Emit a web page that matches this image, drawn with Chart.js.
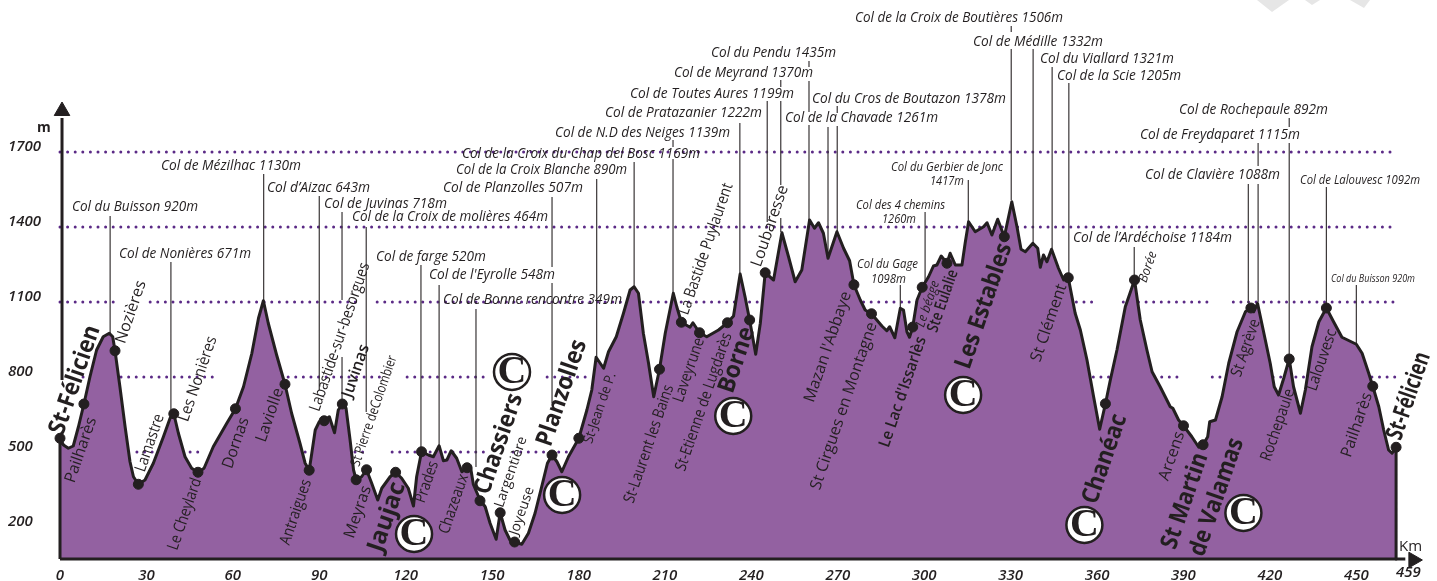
<!DOCTYPE html>
<html>
<head>
<meta charset="utf-8">
<title>Profil</title>
<script src="https://cdn.jsdelivr.net/npm/chart.js@4/dist/chart.umd.min.js"></script>
<style>
    html, body { margin: 0; padding: 0; background: #fff; overflow: hidden; }
    canvas { display: block; }
</style>
</head>
<body>
<canvas id="profile" width="1437" height="581"></canvas>
<script>
// Profile (km, metres)
const profileKm = [0, 0, 1.2, 2.9, 4.6, 6.4, 8.3, 10.4, 12.7, 15, 17.1, 18.3, 19.1, 20.8, 22.6, 24.3, 25.5, 27.2, 29.5, 32.4, 35.9, 38.2, 39.5, 41.1, 43.4, 45.7, 47.9, 50, 53.2, 57.9, 60.9, 63.7, 66.6, 68.9, 70.6, 72.3, 75.2, 78.1, 80.4, 83.3, 85.1, 86.5, 87.4, 88.6, 90, 91.7, 93.5, 95.3, 96.6, 98, 99.3, 100.7, 101.9, 102.8, 104.7, 106.4, 108.2, 110.3, 111.7, 114.6, 116.5, 118.6, 120.9, 122.7, 123.8, 125.5, 127.9, 129.6, 131.6, 133.1, 134.3, 135.8, 137.7, 139.5, 141.3, 142.5, 143.5, 145.8, 147.6, 149.3, 151.4, 152.8, 154.5, 156.2, 157.8, 160.3, 162.6, 164.9, 167.2, 169.2, 170.8, 172.5, 174.2, 176.5, 180.1, 182.9, 184.6, 186.1, 188.7, 190.4, 193.1, 195.6, 197.9, 199.3, 200.8, 202.5, 204.3, 206.1, 208.1, 210.1, 212.9, 214.1, 215.7, 218.7, 219.7, 222, 224.5, 228.6, 231.7, 233.8, 236.1, 237.8, 239.4, 241.5, 243.1, 244.8, 247.7, 250.6, 252.9, 255.2, 257.5, 260.2, 261.9, 263.3, 265, 266.6, 269.7, 272, 274.1, 275.6, 277.8, 279.5, 281.7, 285.3, 287, 288, 289.8, 291.7, 292.8, 294, 294.9, 296, 297.5, 299.3, 301.5, 303.2, 304.4, 305.9, 307.9, 309, 310.8, 313.1, 314.2, 315.4, 317.7, 320.6, 321.8, 323.5, 325.5, 327.8, 330.4, 332.2, 333.6, 335.1, 337.7, 339.4, 340.3, 341.4, 342.6, 344.2, 346.6, 348.4, 350, 352.4, 354.2, 356.5, 358.8, 360.9, 362.9, 364.6, 366.9, 369.8, 373, 375, 377.3, 379.1, 381.9, 385.4, 386.3, 388.3, 390, 392.9, 395.3, 396.8, 398.4, 399.1, 401.1, 403.4, 405.7, 408.6, 411.5, 413.4, 414.4, 415.7, 417.8, 420.1, 421.5, 423, 424.8, 426.7, 428.2, 430.6, 432.3, 434.6, 437, 439.6, 442.1, 445, 450, 452, 454.3, 455.7, 457.8, 459.5, 461.2, 462.4, 463.8, 463.8];
const profileAlt = [72, 555, 528, 515, 524, 601, 692, 801, 908, 961, 975, 961, 905, 761, 601, 461, 401, 371, 388, 455, 561, 635, 653, 575, 481, 435, 419, 435, 521, 615, 673, 761, 895, 1035, 1105, 1015, 888, 771, 655, 535, 455, 427, 495, 588, 621, 625, 641, 577, 668, 692, 675, 548, 428, 389, 401, 429, 375, 308, 355, 401, 419, 395, 355, 284, 401, 501, 488, 481, 525, 465, 468, 505, 475, 421, 437, 440, 370, 308, 281, 215, 151, 257, 188, 148, 140, 131, 175, 255, 361, 455, 488, 461, 421, 481, 555, 668, 748, 879, 835, 901, 961, 1055, 1148, 1161, 1135, 975, 855, 721, 831, 975, 1135, 1081, 1019, 999, 1017, 977, 961, 988, 1017, 1044, 1212, 1121, 1028, 891, 1015, 1217, 1188, 1377, 1281, 1181, 1228, 1428, 1395, 1417, 1375, 1275, 1381, 1315, 1265, 1169, 1108, 1068, 1053, 1004, 985, 1001, 957, 1075, 1068, 981, 959, 1000, 1108, 1159, 1201, 1244, 1248, 1284, 1255, 1295, 1248, 1248, 1335, 1421, 1381, 1401, 1417, 1368, 1431, 1361, 1501, 1401, 1311, 1301, 1335, 1315, 1239, 1288, 1261, 1311, 1235, 1188, 1197, 1055, 988, 868, 721, 591, 693, 788, 908, 1081, 1188, 1028, 908, 821, 761, 681, 675, 628, 605, 561, 519, 529, 561, 621, 628, 721, 855, 981, 1061, 1076, 1061, 1095, 981, 855, 761, 728, 795, 872, 761, 655, 748, 921, 1021, 1076, 1021, 959, 931, 895, 815, 763, 681, 588, 508, 495, 519, 72];
const baseAlt = 72;

// Towns (black dots)
const townKm = [0, 8.3, 19.1, 27.2, 39.5, 47.9, 60.9, 78.1, 86.5, 91.7, 98, 102.8, 106.4, 116.5, 125.5, 141.3, 145.8, 152.8, 157.8, 170.8, 180.1, 208.1, 215.7, 222, 231.7, 239.4, 244.8, 275.6, 281.7, 296, 299.3, 307.9, 327.8, 350, 362.9, 373, 390, 396.8, 413.4, 426.7, 439.6, 455.7, 463.8];
const townAlt = [555, 692, 905, 371, 653, 419, 673, 771, 427, 625, 692, 389, 429, 419, 501, 437, 305, 257, 140, 488, 555, 831, 1019, 977, 1017, 1028, 1217, 1169, 1053, 1000, 1159, 1255, 1361, 1197, 693, 1188, 605, 529, 1076, 872, 1076, 763, 519];

// Circled C marks
const climbKm = [122.9, 156.9, 233.7, 174.3, 313.5, 355.6, 410.8];
const climbAlt = [172, 820, 644, 328, 728, 208, 256];

// Leader lines from the col names down to the profile
const leaderKm = [17.4, 38.5, 70.7, 90, 97.9, 97.9, 106.3, 125.3, 131.6, 144.4, 170.8, 170.8, 186.3, 199.3, 212.8, 212.8, 236, 245.5, 250.2, 250.2, 250.2, 260, 260, 260, 266.6, 269.8, 269.8, 291.7, 300.3, 315.3, 330.2, 330.2, 337.8, 344.4, 350.2, 372.9, 412.5, 415.9, 415.9, 426.7, 426.7, 439.6, 450];
const leaderTop = [1444, 1260, 1612, 1524, 1460, 880, 1400, 1248, 1168, 1072, 1520, 1176, 1592, 1660, 1748, 1672, 1816, 1904, 1988, 1904, 1436, 2064, 1984, 1808, 1800, 1884, 1804, 1168, 1460, 1588, 2204, 2112, 2112, 2040, 1976, 1320, 1572, 1736, 1572, 1836, 1736, 1560, 1168];
const leaderBottom = [975, 653, 1105, 748, 1108, 708, 660, 500, 525, 440, 1240, 696, 880, 1160, 1720, 1135, 1212, 1420, 1960, 1568, 1380, 2040, 1860, 1428, 1276, 1856, 1380, 1076, 1176, 1420, 2180, 1508, 1336, 1316, 1208, 1188, 1096, 1644, 1100, 1800, 872, 1076, 932];

// Dotted level lines, with the stretches where they are drawn
const levelAlts = [1700, 1400, 1100, 800, 500];
const levelSpans = [
    [[0, 463.5]],
    [[0, 463.5]],
    [[0, 20.8], [31.3, 103.1], [110.1, 359.4], [369.1, 398.3], [407.3, 463.5]],
    [[8, 54.9], [79.2, 112.8], [120.5, 149.3], [169.1, 184.7], [358.7, 389.9], [400, 463.5]],
    [[26.7, 49.7], [85.1, 87.5], [102.4, 105.9], [115.3, 149.3], [157.3, 178.8]]
];

const xTicks = [0, 30, 60, 90, 120, 150, 180, 210, 240, 270, 300, 330, 360, 390, 420, 450];
const yTicks = [200, 500, 800, 1100, 1400, 1700];

const colNames = [
    'Col de la Croix de Boutières 1506m', 'Col de Médille 1332m', 'Col du Viallard 1321m', 'Col de la Scie 1205m',
    'Col du Cros de Boutazon 1378m', 'Col de la Chavade 1261m', 'Col du Pendu 1435m', 'Col de Meyrand 1370m',
    'Col de Toutes Aures 1199m', 'Col de Pratazanier 1222m', 'Col de N.D des Neiges 1139m',
    'Col de la Croix du Chap del Bosc 1169m', 'Col de la Croix Blanche 890m', 'Col de Planzolles 507m',
    'Col de la Croix de molières 464m', 'Col de Juvinas 718m', 'Col d’Aizac 643m', 'Col de Mézilhac 1130m',
    'Col du Buisson 920m', 'Col de Nonières 671m', 'Col de farge 520m', "Col de l'Eyrolle 548m",
    'Col de Bonne rencontre 349m', 'Col du Gerbier de Jonc', '1417m', 'Col des 4 chemins', '1260m',
    'Col du Gage', '1098m', 'Col de Rochepaule 892m', 'Col de Freydaparet 1115m', 'Col de Clavière 1088m',
    'Col de Lalouvesc 1092m', 'Col de l’Ardéchoise 1184m', 'Col du Buisson 920m'
];
const townNames = [
    'St-Félicien', 'Pailharès', 'Nozières', 'Lamastre', 'Les Nonières', 'Le Cheylard', 'Dornas', 'Laviolle',
    'Antraigues', 'Labastide-sur-besorgues', 'Juvinas', 'St Pierre deColombier', 'Meyras', 'Jaujac', 'Prades',
    'Chazeaux', 'Chassiers', 'Largentière', 'Joyeuse', 'Planzolles', 'St-Jean de P.', 'St-Laurent les Bains',
    'Laveyrune', 'La Bastide Puylaurent', 'St-Etienne de Lugdarès', 'Borne', 'Loubaresse', "Mazan l'Abbaye",
    'St Cirgues en Montagne', "Le Lac d'Issarlès", 'Le béage', 'Ste Eulalie', 'Les Estables', 'St Clément',
    'Borée', 'Chanéac', 'Arcens', 'St Martin', 'de Valamas', 'St Agrève', 'Rochepaule', 'Lalouvesc', 'Pailharès',
    'St-Félicien'
];

// Text placement, same order as the names: left, right, middle y, font size
const colLayout = [
    [855, 1063, 18, 14], [973, 1103, 42, 14], [1040, 1174, 59, 14], [1057, 1181, 76, 14],
    [812, 1006, 99, 14], [785, 938, 118, 14], [711, 836, 53, 14], [674, 813, 73, 14],
    [630, 794, 94, 14], [605, 762, 113, 14], [555, 730, 133, 14],
    [462, 700, 154, 14], [456, 627, 170, 14], [443, 583, 188, 14],
    [352, 548, 217, 14], [324, 447, 204, 14], [267, 370, 188, 14], [161, 301, 166, 14],
    [72, 198, 207, 14], [119, 251, 254, 14], [376, 486, 257, 14], [429, 555, 275, 14],
    [443, 622, 300, 14], [891, 1003, 167, 12], [930, 964, 181, 12], [856, 945, 205, 12], [882, 916, 219, 12],
    [857, 918, 264, 12], [871, 906, 279, 12], [1179, 1328, 110, 14], [1140, 1300, 135, 14], [1145, 1280, 175, 14],
    [1300, 1420, 180, 12], [1073, 1232, 238, 14], [1331, 1415, 279, 10]
];
// centre x, centre y, length, font
const townLayout = [
    [75, 380, 114, 'big'], [81, 450, 68, 'mid'], [131, 312, 72, 'mid'], [150, 443, 60, 'mid'], [198, 379, 89, 'mid'],
    [185, 514, 75, 'mid'], [236, 443, 53, 'mid'], [270, 415, 57, 'mid'], [296, 512, 68, 'mid'], [340, 337, 156, 'mid'],
    [356, 371, 55, 'strong'], [374, 411, 116, 'small'], [358, 512, 55, 'mid'], [387, 517, 72, 'big'], [427, 482, 43, 'mid'],
    [454, 504, 62, 'mid'], [499, 444, 105, 'big'], [511, 472, 74, 'small'], [522, 511, 52, 'small'], [562, 393, 111, 'big'],
    [600, 408, 74, 'small'], [649, 444, 124, 'mid'], [689, 370, 67, 'mid'], [706, 249, 138, 'mid'], [704, 402, 145, 'mid'],
    [737, 360, 68, 'big'], [770, 226, 85, 'mid'], [828, 347, 116, 'mid'], [844, 406, 176, 'mid'], [903, 392, 116, 'strong'],
    [928, 304, 48, 'tiny'], [943, 301, 65, 'strong'], [984, 306, 131, 'big'], [1049, 323, 82, 'mid'], [1148, 267, 32, 'tiny'],
    [1105, 459, 93, 'big'], [1172, 456, 52, 'mid'], [1185, 501, 100, 'big'], [1217, 497, 123, 'big'], [1246, 348, 60, 'mid'],
    [1278, 425, 75, 'mid'], [1322, 360, 64, 'mid'], [1357, 425, 67, 'mid'], [1409, 396, 91, 'big']
];

const INK = '#231f20';
const FACE = '"Open Sans", "Noto Sans", sans-serif';
const townFonts = {
    big: `700 24px ${FACE}`,
    strong: `600 16px ${FACE}`,
    mid: `400 16px ${FACE}`,
    small: `400 14px ${FACE}`,
    tiny: `italic 400 13px ${FACE}`
};

function levelPoints() {
    const pts = [];
    levelAlts.forEach((alt, i) => {
        levelSpans[i].forEach(span => {
            pts.push({ x: span[0], y: alt }, { x: span[1], y: alt }, { x: span[1], y: null });
        });
    });
    return pts;
}

function leaderPoints() {
    const pts = [];
    leaderKm.forEach((km, i) => {
        pts.push({ x: km, y: leaderTop[i] }, { x: km, y: leaderBottom[i] }, { x: km, y: null });
    });
    return pts;
}

function zip(xs, ys) {
    return xs.map((x, i) => ({ x: x, y: ys[i] }));
}

// the scales must fill the canvas exactly, so no room is kept for edge labels
function noEdgePadding(axis) {
    axis.paddingLeft = 0;
    axis.paddingRight = 0;
    axis.paddingTop = 0;
    axis.paddingBottom = 0;
}

// Names, circled C, small map scraps at the top right
const annotations = {
    id: 'annotations',
    afterDatasetsDraw(chart) {
        const ctx = chart.ctx;
        const xs = chart.scales.x;
        const ys = chart.scales.y;

        ctx.save();
        ctx.fillStyle = INK;
        ctx.textBaseline = 'middle';
        ctx.textAlign = 'left';

        colNames.forEach((name, i) => {
            const l = colLayout[i];
            ctx.font = `italic 500 ${l[3] + 1}px ${FACE}`;
            ctx.fillText(name, l[0], l[2], l[1] - l[0]);
        });

        ctx.textAlign = 'center';
        townNames.forEach((name, i) => {
            const l = townLayout[i];
            ctx.save();
            ctx.translate(l[0], l[1]);
            ctx.rotate(-71 * Math.PI / 180);
            ctx.font = townFonts[l[3]];
            ctx.fillText(name, 0, 0, l[2]);
            ctx.restore();
        });

        ctx.font = `700 40px "Liberation Serif", serif`;
        climbKm.forEach((km, i) => {
            ctx.fillText('C', xs.getPixelForValue(km), ys.getPixelForValue(climbAlt[i]) + 1);
        });

        ctx.textAlign = 'left';
        ctx.font = `700 14px ${FACE}`;
        ctx.fillText('m', 37, 128);
        ctx.font = `500 15px ${FACE}`;
        ctx.fillText('Km', 1399, 547);
        ctx.font = `italic 600 15px ${FACE}`;
        ctx.fillText('459', 1396, 573);

        ctx.fillStyle = '#e6e6e6';
        [[1257, 0, 1272, 12, 1289, 0], [1305, 0, 1312, 5, 1320, 0], [1350, 0, 1364, 8, 1370, 0]].forEach(s => {
            ctx.beginPath();
            ctx.moveTo(s[0], s[1]);
            ctx.lineTo(s[2], s[3]);
            ctx.lineTo(s[4], s[5]);
            ctx.closePath();
            ctx.fill();
        });
        ctx.restore();
    }
};

new Chart(document.getElementById('profile'), {
    type: 'scatter',
    data: {
        datasets: [
            {
                label: 'levels',
                data: levelPoints(),
                showLine: true,
                order: 6,
                borderColor: '#5b2a86',
                borderWidth: 3,
                borderDash: [0, 7.6],
                borderCapStyle: 'round',
                pointRadius: 0,
                clip: false
            },
            {
                label: 'leaders',
                data: leaderPoints(),
                showLine: true,
                order: 5,
                borderColor: '#3a3637',
                borderWidth: 1.2,
                pointRadius: 0,
                clip: false
            },
            {
                label: 'profile',
                data: zip(profileKm, profileAlt),
                showLine: true,
                order: 4,
                fill: 'start',
                backgroundColor: '#9361a1',
                borderColor: INK,
                borderWidth: 3,
                borderJoinStyle: 'round',
                pointRadius: 0,
                clip: false
            },
            {
                label: 'km axis',
                data: [{ x: 0, y: baseAlt }, { x: 467, y: baseAlt }],
                showLine: true,
                order: 3,
                borderColor: INK,
                borderWidth: 3,
                pointRadius: 0,
                clip: false
            },
            {
                label: 'm axis',
                data: [{ x: 0.7, y: 788 }, { x: 0.7, y: 1836 }],
                showLine: true,
                order: 3,
                borderColor: INK,
                borderWidth: 3,
                pointRadius: 0,
                clip: false
            },
            {
                label: 'arrows',
                data: [{ x: 0.7, y: 1864 }, { x: 469.8, y: baseAlt - 4 }],
                order: 2,
                pointStyle: 'triangle',
                pointRadius: 9,
                pointRotation: [0, 90],
                backgroundColor: INK,
                borderColor: INK,
                clip: false
            },
            {
                label: 'towns',
                data: zip(townKm, townAlt),
                order: 1,
                pointRadius: 5,
                backgroundColor: INK,
                borderColor: INK,
                clip: false
            },
            {
                label: 'climbs',
                data: zip(climbKm, climbAlt),
                order: 0,
                pointRadius: 18,
                backgroundColor: '#fff',
                borderColor: INK,
                borderWidth: 2.5,
                clip: false
            }
        ]
    },
    plugins: [annotations],
    options: {
        responsive: false,
        animation: false,
        layout: { autoPadding: false, padding: { left: 8, right: 0, top: 0, bottom: 0 } },
        plugins: { legend: { display: false }, tooltip: { enabled: false } },
        scales: {
            x: {
                type: 'linear',
                min: 0,
                max: 478,
                grid: { display: false },
                border: { display: false },
                afterBuildTicks: axis => { axis.ticks = xTicks.map(v => ({ value: v })); },
                afterFit: axis => { axis.height = 22; noEdgePadding(axis); },
                ticks: {
                    padding: 0,
                    maxRotation: 0,
                    autoSkip: false,
                    color: INK,
                    font: { family: FACE, size: 15, style: 'italic', weight: '600' }
                }
            },
            y: {
                type: 'linear',
                min: baseAlt,
                max: 2308,
                grid: { display: false },
                border: { display: false },
                afterBuildTicks: axis => { axis.ticks = yTicks.map(v => ({ value: v })); },
                afterFit: axis => { axis.width = 52; noEdgePadding(axis); },
                ticks: {
                    crossAlign: 'far',
                    autoSkip: false,
                    color: INK,
                    font: { family: FACE, size: 15, style: 'italic', weight: '600', lineHeight: '10px' },
                    // second empty line lifts the number above its level line
                    callback: value => [String(value), '']
                }
            }
        }
    }
});
</script>
</body>
</html>
